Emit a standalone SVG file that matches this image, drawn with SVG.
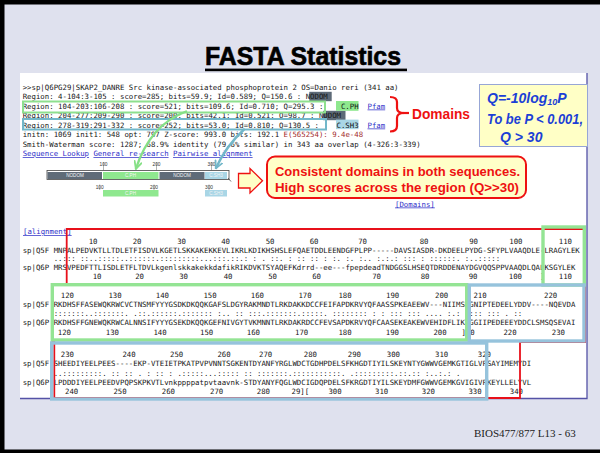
<svg xmlns="http://www.w3.org/2000/svg" width="600" height="453" viewBox="0 0 600 453">
<style>
.mono{font-family:"DejaVu Sans Mono","Liberation Mono",monospace;font-size:7.35px;fill:#151515;white-space:pre}
.lk{fill:#2e2ec8;text-decoration:underline}
.dm{font-family:"Liberation Sans",Arial,sans-serif;font-size:4.6px;fill:#f4f4f4;text-anchor:middle}
.sc{font-family:"Liberation Sans",Arial,sans-serif;font-size:4.8px;fill:#333;text-anchor:middle}
.tick{stroke:#666;stroke-width:0.5}
.gbox{fill:none;stroke:#94e494;stroke-width:3.4}
.bbox{fill:none;stroke:#96c3dc;stroke-width:3.4}
.qtx{font-family:"Liberation Sans",Arial,sans-serif;font-weight:bold;font-style:italic;fill:#1c3fd6}
.red{font-family:"Liberation Sans",Arial,sans-serif;font-weight:bold;fill:#ee1111}
</style>
<defs>
<marker id="headG" viewBox="0 0 10 10" refX="8.5" refY="5" markerWidth="9" markerHeight="9" markerUnits="userSpaceOnUse" orient="auto">
<path d="M1,1 L9,5 L1,9" fill="none" stroke="#86e086" stroke-width="2" stroke-linecap="round" stroke-linejoin="round"/>
</marker>
<marker id="headT" viewBox="0 0 10 10" refX="8.5" refY="5" markerWidth="9" markerHeight="9" markerUnits="userSpaceOnUse" orient="auto">
<path d="M1,1 L9,5 L1,9" fill="none" stroke="#72b7c9" stroke-width="2" stroke-linecap="round" stroke-linejoin="round"/>
</marker>
</defs>

<!-- slide background and frame -->
<rect x="0" y="0" width="600" height="453" fill="#dfe1ee"/>
<rect x="0" y="0" width="600" height="4.5" fill="#000"/>
<rect x="0" y="0" width="4.5" height="453" fill="#000"/>
<rect x="0" y="449.5" width="600" height="3.5" fill="#000"/>

<!-- title -->
<g id="title">
<text x="205" y="65" font-family="'Liberation Sans Narrow','Liberation Sans',Arial,sans-serif" font-weight="bold" font-size="25" textLength="196" lengthAdjust="spacingAndGlyphs" fill="#000" stroke="#000" stroke-width="0.6">FASTA Statistics</text>
<rect x="205" y="68.6" width="202" height="2.6" fill="#000"/>
</g>

<!-- result panel -->
<g id="panel">
<rect x="20" y="73" width="567" height="325.5" fill="#fff"/>
<path d="M587 73 V398.5 H20" fill="none" stroke="#5452a6" stroke-width="1.3"/>
</g>

<!-- search header -->
<g id="header" class="mono" xml:space="preserve">
<rect x="309.3" y="91.8" width="22.4" height="9.4" fill="#5d6a77"/>
<rect x="323.1" y="110.8" width="22.4" height="9.4" fill="#5d6a77"/>
<rect x="336" y="101" width="22.5" height="9.8" fill="#8ee88e"/>
<rect x="336" y="119.6" width="22.5" height="9.6" fill="#a9d6e6"/>
<text x="22.7" y="89.5">&gt;&gt;sp|Q6PG29|SKAP2_DANRE Src kinase-associated phosphoprotein 2 OS=Danio reri  (341 aa)</text>
<text x="22.7" y="99"> Region: 4-104:3-105 : score=285; bits=59.9; Id=0.589; Q=150.6 : NODOM</text>
<text x="22.7" y="108.5"> Region: 104-203:106-208 : score=521; bits=109.6; Id=0.710; Q=295.3 :</text>
<text x="340.9" y="108.5">C.PH</text>
<text x="367.5" y="108.5" class="lk">Pfam</text>
<text x="22.7" y="118"> Region: 204-277:209-290 : score=200; bits=42.1; Id=0.521; Q=98.7 : NODOM</text>
<text x="22.7" y="127.5"> Region: 278-319:291-332 : score=252; bits=53.0; Id=0.810; Q=130.5  :</text>
<text x="336.5" y="127.5">C.SH3</text>
<text x="367.5" y="127.5" class="lk">Pfam</text>
<text x="22.7" y="137"> initn: 1069 init1: 548 opt: 797  Z-score: 993.0  bits: 192.1 <tspan fill="#a32a2a">E(565254): 9.4e-48</tspan></text>
<text x="22.7" y="146.5">Smith-Waterman score: 1287; 68.9% identity (79.6% similar) in 343 aa overlap (4-326:3-339)</text>
<text x="22.7" y="156"><tspan class="lk">Sequence Lookup</tspan>  <tspan class="lk">General re-search</tspan>  <tspan class="lk">Pairwise alignment</tspan></text>
<text x="395" y="206.5" class="lk">[Domains]</text>
<rect x="23" y="101.5" width="302" height="11" fill="none" stroke="#8ee08e" stroke-width="2"/>
<rect x="23" y="119" width="303" height="10.5" fill="none" stroke="#72b7c9" stroke-width="2"/>
</g>

<!-- domain map -->
<g id="domain-map">
<text class="sc" x="103.5" y="166">100</text>
<text class="sc" x="156.5" y="166">200</text>
<text class="sc" x="211.5" y="166">300</text>
<line class="tick" x1="103.5" y1="162" x2="103.5" y2="170.5"/>
<line class="tick" x1="156.5" y1="162" x2="156.5" y2="170.5"/>
<line class="tick" x1="211.5" y1="162" x2="211.5" y2="170.5"/>
<rect x="47" y="170.5" width="182" height="9" fill="#fff" stroke="#444" stroke-width="0.8"/>
<rect x="47.5" y="172" width="54.5" height="7" fill="#5f6b78"/>
<rect x="103" y="172" width="55.5" height="7" fill="#8fe88f"/>
<rect x="159.5" y="172" width="45" height="7" fill="#5f6b78"/>
<rect x="205" y="172" width="22" height="7" fill="#a9d6e6"/>
<line x1="228" y1="178" x2="231" y2="181.5" stroke="#444" stroke-width="0.8"/>
<text class="dm" x="75" y="177.3">NODOM</text>
<text class="dm" x="130.5" y="177.3">C.PH</text>
<text class="dm" x="182" y="177.3">NODOM</text>
<text class="dm" x="216" y="177.3">C.SH3</text>
<text class="sc" x="99.7" y="189">100</text>
<text class="sc" x="154" y="189">200</text>
<text class="sc" x="209" y="189">300</text>
<line class="tick" x1="99.7" y1="184.5" x2="99.7" y2="190"/>
<line class="tick" x1="154" y1="184.5" x2="154" y2="190"/>
<line class="tick" x1="209" y1="184.5" x2="209" y2="190"/>
<rect x="103" y="190" width="55.5" height="6.5" fill="#8fe88f"/>
<rect x="205" y="190" width="22" height="6.5" fill="#a9d6e6"/>
<text class="dm" x="130.5" y="195">C.PH</text>
<text class="dm" x="216" y="195">C.SH3</text>
</g>

<!-- notes -->
<g id="domains-brace">
<path d="M390 97 Q397 97 397 102 L397 108 Q397 113 404 113 Q397 113 397 118 L397 126 Q397 131.5 390 131.5" fill="none" stroke="#ee1111" stroke-width="2.2"/>
<line x1="403" y1="113" x2="409" y2="113" stroke="#ee1111" stroke-width="2.2"/>
<text class="red" x="412" y="118.5" font-size="15.5" textLength="58" lengthAdjust="spacingAndGlyphs">Domains</text>
</g>
<g id="q-note">
<rect x="479.5" y="84.5" width="108" height="62" fill="#ffffc6" stroke="#97a6d6" stroke-width="1"/>
<text class="qtx" x="487" y="103" font-size="14">Q=-10log<tspan font-size="9" dy="2">10</tspan><tspan dy="-2">P</tspan></text>
<text class="qtx" x="487" y="123.5" font-size="14" textLength="96" lengthAdjust="spacingAndGlyphs">To be P &lt; 0.001,</text>
<text class="qtx" x="500" y="141.5" font-size="14">Q &gt; 30</text>
</g>
<g id="callout">
<path d="M238.5 173.5 H250 V168.5 L262.5 180.8 L250 193 V188 H238.5 Z" fill="#ffffc6" stroke="#ee1111" stroke-width="1.3"/>
<rect x="267" y="156.5" width="259" height="41.5" rx="8" fill="#ffffc8" stroke="#ee1111" stroke-width="2"/>
<text class="red" x="275" y="176" font-size="13.2" textLength="245" lengthAdjust="spacingAndGlyphs">Consistent domains in both sequences.</text>
<text class="red" x="275" y="191.5" font-size="13.2" textLength="244" lengthAdjust="spacingAndGlyphs">High scores across the region (Q&gt;&gt;30)</text>
</g>

<!-- alignment -->
<g id="alignment" class="mono" xml:space="preserve">
<text x="23" y="234" class="lk">[alignment]</text>
<text y="243.5"><tspan x="88.66">10</tspan><tspan x="132.66">20</tspan><tspan x="177.16">30</tspan><tspan x="221.16">40</tspan><tspan x="265.66">50</tspan><tspan x="309.66">60</tspan><tspan x="358.16">70</tspan><tspan x="419.66">80</tspan><tspan x="469.16">90</tspan><tspan x="509.24">100</tspan><tspan x="558.74">110</tspan></text>
<text x="22.7" y="252.5">sp|Q5F MNPALPEDVKTLLTDLETFISDVLKGETLSKKAKEKKEVLIKRLKDIKHSHSLEFQAETDDLEENDGFPLPP-----DAVSIASDR-DKDEELPYDG-SFYPLVAAQDLE-LRAGYLEK</text>
<text x="53.64" y="261">   ..:::  ::..:::::..::::::.:::::::::...:::.::.: : . ::.   :  ::   :: :      :. :. :.. :.:.:  :::    : ::::::. :..:::::</text>
<text x="22.7" y="270">sp|Q6P  MRSVPEDFTTLISDLETFLTDVLkgenlskkakekkdafikRIKDVKTSYAQEFKdrrd--ee---fpepdeadTNDGGSLHSEQTDRDDENAYDGVQQSPPVAAQDLQALKSGYLEK</text>
<text y="278.7"><tspan x="92.66">10</tspan><tspan x="135.16">20</tspan><tspan x="179.16">30</tspan><tspan x="223.66">40</tspan><tspan x="268.16">50</tspan><tspan x="312.16">60</tspan><tspan x="372.16">70</tspan><tspan x="420.66">80</tspan><tspan x="468.66">90</tspan><tspan x="508.74">100</tspan><tspan x="540">]</tspan><tspan x="558.74">110</tspan></text>

<text y="298.3"><tspan x="60.74">120</tspan><tspan x="108.44">130</tspan><tspan x="155.74">140</tspan><tspan x="203.44">150</tspan><tspan x="250.74">160</tspan><tspan x="298.44">170</tspan><tspan x="338.44">180</tspan><tspan x="386.04">190</tspan><tspan x="435.04">200</tspan><tspan x="473.44">210</tspan><tspan x="544.04">220</tspan></text>
<text x="22.7" y="306.8">sp|Q5F  RKDHSFFASEWQKRWCVCTNSMFYYYGSDKDKQQKGAFSLDGYRAKMNDTLRKDAKKDCCFEIFAPDKRVYQFAASSPKEAEEWV---NIIMSRGNIPTEDEELYDDV----NQEVDA</text>
<text x="53.64" y="315.8"> :::::::..:::::::. .::.::::::.::::::: :.. ::  :::.:::::::.:::::. :::::::: : : ::: :::   ....  :.:  :::: :::     . ::  </text>
<text x="22.7" y="325.2">sp|Q6P  RKDHSFFGNEWQKRWCALNNSIFYYYGSEKDKQQKGEFNIVGYTVKMNNTLRKDAKRDCCFEVSAPDKRVYQFCAASEKEAKEWVEHIDFLIKLGGIIPEDEEEYDDCLSMSQSEVAI</text>
<text y="334.5"><tspan x="57.74">120</tspan><tspan x="105.74">130</tspan><tspan x="153.44">140</tspan><tspan x="200.04">150</tspan><tspan x="246.74">160</tspan><tspan x="295.04">170</tspan><tspan x="338.44">180</tspan><tspan x="385.74">190</tspan><tspan x="433.44">200</tspan><tspan x="461.5">]10</tspan><tspan x="503.44">220</tspan><tspan x="551.74">230</tspan></text>

<text y="356.5"><tspan x="60.74">230</tspan><tspan x="122.44">240</tspan><tspan x="170.04">250</tspan><tspan x="217.44">260</tspan><tspan x="259.04">270</tspan><tspan x="303.74">280</tspan><tspan x="347.74">290</tspan><tspan x="386.74">300</tspan><tspan x="435.04">310</tspan><tspan x="477.74">320</tspan></text>
<text x="22.7" y="366.2">sp|Q5F SHEEDIYEELPEES----EKP-VTEIETPKATPVPVNNTSGKENTDYANFYRGLWDCTGDHPDELSFKHGDTIYILSKEYNTYGWWVGEMKGTIGLVPSAYIMEMYDI</text>
<text x="53.64" y="375.5">  ..:::::::::.     :: :: .  :     ::     : .:::::...::::: :: :::::::.:::::::::::. .:::::::::.::.::  :..:.: .</text>
<text x="22.7" y="385">sp|Q6P LPDDDIYEELPEEDVPQPSKPKVTLvnkppppatpvtaavnk-STDYANYFQGLWDCIGDQPDELSFKRGDTIYILSKEYDMFGWWVGEMKGVIGIVPKEYLLELYVL</text>
<text y="394"><tspan x="65.04">240</tspan><tspan x="113.44">250</tspan><tspan x="161.74">260</tspan><tspan x="210.04">270</tspan><tspan x="256.74">280</tspan><tspan x="291.5">29][</tspan><tspan x="328.44">300</tspan><tspan x="375.04">310</tspan><tspan x="421.74">320</tspan><tspan x="468.44">330</tspan><tspan x="509.74">340</tspan></text>
</g>

<!-- aligned-region outlines -->
<g id="region-outlines">
<path d="M66.7 285 V229 H585 V342 H520 V398 H54.3 V342 H52.5 V285 Z" fill="none" stroke="#e8101a" stroke-width="1.8"/>
<rect class="gbox" x="543" y="227" width="41.3" height="58"/>
<rect class="gbox" x="52.3" y="284.7" width="414.4" height="55.3"/>
<rect class="bbox" x="469.3" y="285" width="114.7" height="56"/>
<rect class="bbox" x="51.7" y="343" width="435" height="56"/>
</g>

<!-- connectors -->
<g id="connectors" fill="none" stroke-width="2.4" stroke-linecap="round">
<path d="M186 111.5 Q150 125 136 168.5" stroke="#86e086" marker-end="url(#headG)"/>
<path d="M244 129.5 Q226 146 216 168" stroke="#72b7c9" marker-end="url(#headT)"/>
</g>

<!-- footer -->
<text x="474" y="437" font-family="'Liberation Serif','Times New Roman',serif" font-size="11" fill="#222">BIOS477/877 L13 - 63</text>
</svg>
